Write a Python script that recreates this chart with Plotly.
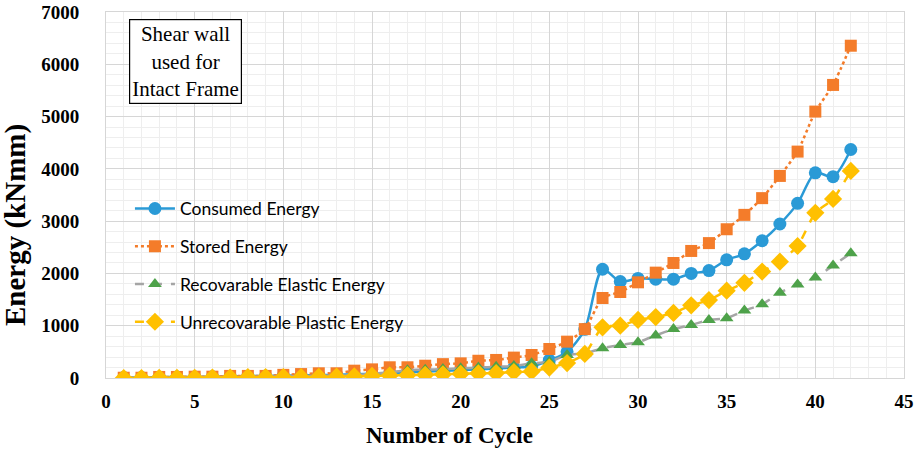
import plotly.graph_objects as go

# Cycle numbers
cycles = list(range(1, 43))

# Energy values per cycle (kNmm)
consumed = [10, 10, 15, 20, 20, 25, 30, 35, 40, 45,
            50, 55, 60, 70, 80, 90, 110, 120, 135, 150,
            165, 180, 200, 220, 340, 500, 930,
            2080, 1845, 1905, 1890, 1890, 2000, 2055, 2260, 2375, 2625, 2945, 3340, 3925, 3850, 4370]

stored = [5, 5, 20, 20, 25, 25, 40, 40, 40, 60,
          75, 90, 90, 140, 165, 205, 205, 235, 265, 280,
          330, 345, 390, 440, 555, 695, 935,
          1530, 1645, 1830, 2015, 2200, 2430, 2580, 2845, 3120, 3440, 3865, 4330, 5095, 5605, 6355]

recoverable = [5, 5, 10, 10, 15, 15, 20, 20, 25, 30,
               35, 40, 45, 55, 80, 110, 150, 160, 170, 185,
               200, 215, 230, 280, 310, 440, 470,
               570, 630, 685, 815, 935, 1015, 1110, 1145, 1290, 1410, 1630, 1790, 1920, 2150, 2385]

unrecoverable = [0, 0, 5, 5, 5, 10, 10, 15, 15, 15,
                 15, 20, 25, 30, 40, 50, 55, 60, 70, 80,
                 90, 95, 115, 125, 200, 285, 460,
                 970, 1000, 1110, 1165, 1245, 1390, 1490, 1670, 1820, 2035, 2225, 2525, 3160, 3425, 3960]

series_names = ["Consumed Energy", "Stored Energy",
                "Recovarable Elastic Energy", "Unrecovarable Plastic Energy"]

fig = go.Figure()

fig.add_trace(go.Scatter(
    x=cycles, y=consumed, name=series_names[0], mode="lines+markers",
    line=dict(color="#2a9ad6", width=2.5, shape="spline", smoothing=0.8),
    marker=dict(symbol="circle", size=13, color="#2a9ad6"),
    legendgroup="a"))

fig.add_trace(go.Scatter(
    x=cycles, y=stored, name=series_names[1], mode="lines+markers",
    line=dict(color="#f47c2a", width=2.5, dash="dot", shape="spline", smoothing=0.6),
    marker=dict(symbol="square", size=12, color="#f47c2a"),
    legendgroup="b"))

fig.add_trace(go.Scatter(
    x=cycles, y=recoverable, name=series_names[2], mode="lines+markers",
    line=dict(color="#a5a5a5", width=2.5, dash="dash", shape="spline", smoothing=0.6),
    marker=dict(symbol="triangle-up", size=12, color="#4ea24a"),
    legendgroup="c"))

fig.add_trace(go.Scatter(
    x=cycles, y=unrecoverable, name=series_names[3], mode="lines+markers",
    line=dict(color="#ffc000", width=2.5, dash="dash", shape="spline", smoothing=0.6),
    marker=dict(symbol="diamond", size=14, color="#ffc000"),
    legendgroup="d"))

tick_font = dict(family="Liberation Serif", size=19, color="#000000")

fig.update_layout(
    width=921, height=450,
    margin=dict(l=106, r=17, t=12, b=72),
    paper_bgcolor="white", plot_bgcolor="white",
    showlegend=True,
    legend=dict(
        x=0.03, y=0.512, xanchor="left", yanchor="top",
        bgcolor="rgba(255,255,255,0)",
        font=dict(family="Lato", size=17.5, color="#000000"),
        tracegroupgap=12, itemwidth=40,
    ),
    annotations=[
        dict(
            text="Shear wall<br>used for<br>Intact Frame",
            xref="paper", yref="paper", x=0.1, y=0.866,
            xanchor="center", yanchor="middle", showarrow=False,
            font=dict(family="Liberation Serif", size=21, color="#000000"),
            align="center", bordercolor="#000000", borderwidth=1.2,
            borderpad=2, bgcolor="white",
        ),
        # axis titles
        dict(
            text="<b>Number of Cycle</b>",
            xref="paper", yref="paper", x=0.431, y=-0.156,
            xanchor="center", yanchor="middle", showarrow=False,
            font=dict(family="Liberation Serif", size=23, color="#000000"),
        ),
        dict(
            text="<b>Energy (kNmm)</b>", textangle=-90,
            xref="paper", yref="paper", x=-0.114, y=0.418,
            xanchor="center", yanchor="middle", showarrow=False,
            font=dict(family="Liberation Serif", size=29, color="#000000"),
        ),
    ],
)

fig.update_xaxes(
    range=[0, 45], dtick=5, tick0=0, automargin=False,
    showgrid=True, gridcolor="#d6d6d6", gridwidth=1,
    minor=dict(dtick=1, showgrid=True, gridcolor="#eeeeee"),
    showline=True, linecolor="#d6d6d6", mirror=True,
    zeroline=False, ticks="",
    tickfont=tick_font, ticklabelstandoff=6,
    tickprefix="<b>", ticksuffix="</b>",
)

fig.update_yaxes(
    range=[0, 7000], dtick=1000, tick0=0, automargin=False,
    showgrid=True, gridcolor="#d6d6d6", gridwidth=1,
    minor=dict(dtick=200, showgrid=True, gridcolor="#eeeeee"),
    showline=True, linecolor="#d6d6d6", mirror=True,
    zeroline=False, ticks="",
    tickfont=tick_font, ticklabelstandoff=22,
    tickformat="d",
    tickprefix="<b>", ticksuffix="</b>",
)

fig.write_html("out.html")
